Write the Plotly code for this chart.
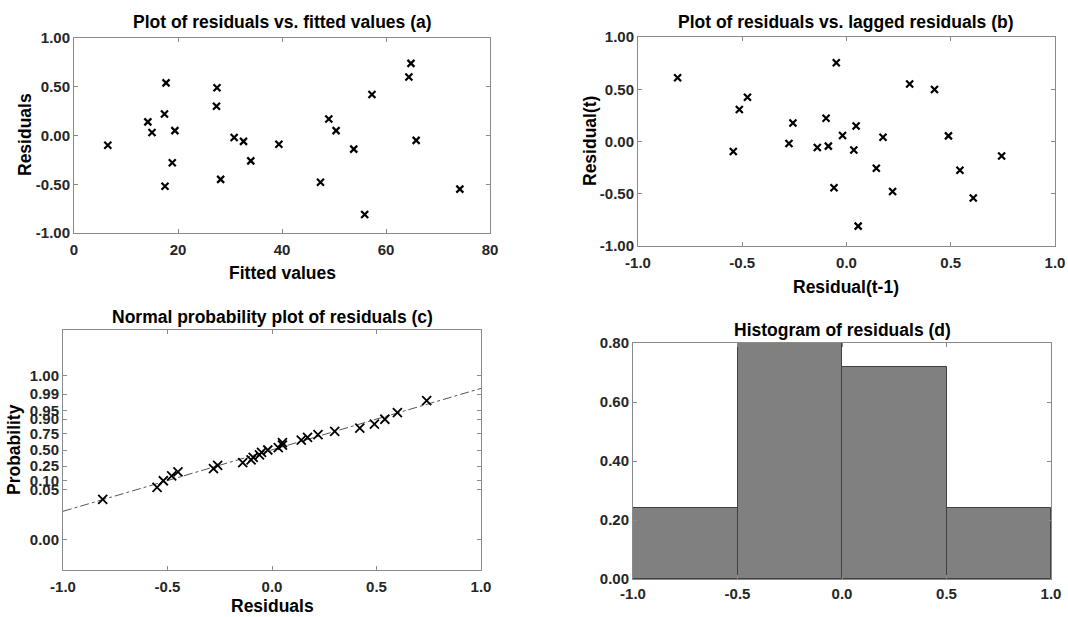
import numpy as np
import plotly.graph_objects as go
from statistics import NormalDist

# ---- data ----
fitted = [6.5, 14.2, 15.0, 17.7, 17.4, 19.4, 18.9, 17.5, 27.5, 27.4, 28.2, 30.8, 32.6,
          34.0, 39.4, 47.4, 49.0, 50.4, 53.8, 55.9, 57.3, 64.4, 64.8, 65.8, 74.2]
residuals = [-0.10, 0.14, 0.03, 0.54, 0.22, 0.05, -0.28, -0.52, 0.49, 0.30, -0.45, -0.02, -0.06,
             -0.26, -0.09, -0.48, 0.17, 0.05, -0.14, -0.81, 0.42, 0.60, 0.74, -0.05, -0.55]

lag_prev = [-0.81, -0.543, -0.514, -0.475, -0.276, -0.257, -0.140, -0.098, -0.087, -0.060, -0.049,
            -0.019, 0.035, 0.046, 0.056, 0.143, 0.175, 0.221, 0.303, 0.422, 0.489, 0.544, 0.608, 0.744]
lag_curr = [0.61, -0.095, 0.307, 0.424, -0.019, 0.177, -0.057, 0.222, -0.044, -0.443, 0.753,
            0.057, -0.082, 0.149, -0.81, -0.256, 0.041, -0.478, 0.551, 0.497, 0.054, -0.275, -0.541, -0.139]

prob_ticks = [0.0001, 0.05, 0.10, 0.25, 0.50, 0.75, 0.90, 0.95, 0.99, 0.999]
prob_labels = ["0.00", "0.05", "0.10", "0.25", "0.50", "0.75", "0.90", "0.95", "0.99", "1.00"]

fitted_ticks = [0, 20, 40, 60, 80]
fitted_labels = ["0", "20", "40", "60", "80"]
res_ticks = [-1.0, -0.5, 0.0, 0.5, 1.0]
res_labels_1 = ["-1.0", "-0.5", "0.0", "0.5", "1.0"]
res_labels_2 = ["-1.00", "-0.50", "0.00", "0.50", "1.00"]
dens_ticks = [0.0, 0.2, 0.4, 0.6, 0.8]
dens_labels = ["0.00", "0.20", "0.40", "0.60", "0.80"]

# ---- derived for normal probability plot ----
nd = NormalDist()
res_sorted = sorted(residuals)
n = len(res_sorted)
z_pts = [nd.inv_cdf((i + 0.5) / n) for i in range(n)]
mu = float(np.mean(residuals))
sd = float(np.std(residuals, ddof=1))
line_x = [-1.0, 1.0]
line_z = [(v - mu) / sd for v in line_x]
prob_z = [nd.inv_cdf(p) for p in prob_ticks]

W, H = 1068, 617
FONT = "Liberation Sans"
TXT = "#262626"
AXC = "#8a8a8a"

def px(x0, x1):
    return [x0 / W, x1 / W]

def py(top, bottom):
    return [1 - bottom / H, 1 - top / H]

fig = go.Figure()

mk = dict(symbol="x-thin", size=7, color="black", line=dict(width=2.2, color="black"))

fig.add_trace(go.Scatter(x=fitted, y=residuals, mode="markers", marker=mk,
                         xaxis="x", yaxis="y", showlegend=False))
fig.add_trace(go.Scatter(x=lag_prev, y=lag_curr, mode="markers", marker=mk,
                         xaxis="x2", yaxis="y2", showlegend=False))
fig.add_trace(go.Scatter(x=line_x, y=line_z, mode="lines",
                         line=dict(color="#555555", width=1, dash="dashdot"),
                         xaxis="x3", yaxis="y3", showlegend=False))
fig.add_trace(go.Scatter(x=res_sorted, y=z_pts, mode="markers",
                         marker=dict(symbol="x-thin", size=9, color="black",
                                     line=dict(width=1.8, color="black")),
                         xaxis="x3", yaxis="y3", showlegend=False))
fig.add_trace(go.Histogram(x=residuals, xbins=dict(start=-1, end=1, size=0.5),
                           histnorm="probability density",
                           marker=dict(color="#808080", line=dict(color="#404040", width=1)),
                           xaxis="x4", yaxis="y4", showlegend=False))

def ax(domain, rng, anchor, vals, texts, standoff=0):
    return dict(domain=domain, range=rng, anchor=anchor, showgrid=False, zeroline=False,
                showline=True, linecolor=AXC, linewidth=1, mirror="ticks",
                ticks="inside", ticklen=4, tickcolor=AXC, automargin=False,
                tickmode="array", tickvals=vals, ticktext=texts,
                ticklabelstandoff=standoff,
                tickfont=dict(family=FONT, size=15, color=TXT, weight="bold"))

xa = px(74, 490); ya = py(38, 233)
xb = px(638, 1055); yb = py(37, 246)
xc = px(63, 481); yc = py(330, 570)
xd = px(633, 1051); yd = py(343, 579)

fig.update_layout(
    width=W, height=H, margin=dict(l=0, r=0, t=0, b=0, autoexpand=False),
    paper_bgcolor="white", plot_bgcolor="white", bargap=0,
    font=dict(family=FONT, color=TXT),
    xaxis=ax(xa, [0, 80], "y", fitted_ticks, fitted_labels, 3),
    yaxis=ax(ya, [-1, 1], "x", res_ticks, res_labels_2),
    xaxis2=ax(xb, [-1, 1], "y2", res_ticks, res_labels_1, 3),
    yaxis2=ax(yb, [-1, 1], "x2", res_ticks, res_labels_2),
    xaxis3=ax(xc, [-1, 1], "y3", res_ticks, res_labels_1, 3),
    yaxis3=ax(yc, [-5, 5], "x3", prob_z, prob_labels),
    xaxis4=ax(xd, [-1, 1], "y4", res_ticks, res_labels_1, 1),
    yaxis4=ax(yd, [0, 0.8], "x4", dens_ticks, dens_labels),
)

def ann(text, x, y, angle=0, size=17.5):
    fig.add_annotation(text=text, x=x / W, y=1 - y / H, xref="paper", yref="paper",
                       showarrow=False, textangle=angle, xanchor="center", yanchor="middle",
                       font=dict(family=FONT, size=size, color="black", weight="bold"))

# titles
ann("Plot of residuals vs. fitted values (a)", 282, 22)
ann("Plot of residuals vs. lagged residuals (b)", 846, 22)
ann("Normal probability plot of residuals (c)", 272, 317)
ann("Histogram of residuals (d)", 842, 330)
# axis titles
ann("Fitted values", 282, 273)
ann("Residuals", 25, 135, angle=-90)
ann("Residual(t-1)", 846, 287)
ann("Residual(t)", 590, 141, angle=-90)
ann("Residuals", 272, 606)
ann("Probability", 14, 450, angle=-90)

fig.write_html("out.html")
